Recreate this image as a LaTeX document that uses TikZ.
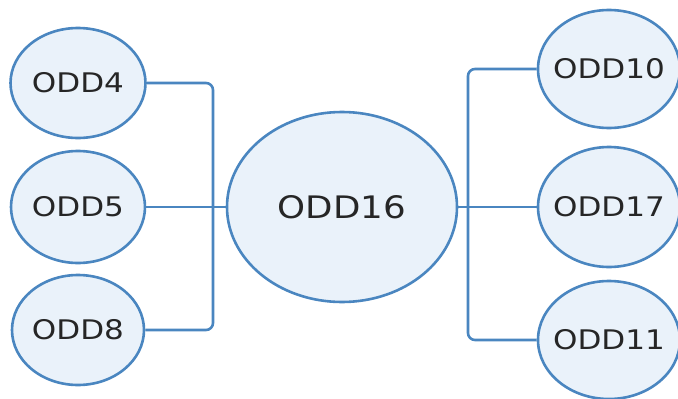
\documentclass[tikz,border=0pt]{standalone}
\usepackage{fontspec}
\usepackage{xcolor}
\usepackage{tikz}
\usetikzlibrary{shapes.geometric}
\newfontfamily\oddfont[FakeStretch=1.15]{DejaVu Sans}
\definecolor{oddline}{HTML}{4A86C0}
\definecolor{oddfill}{HTML}{EAF2FA}
\definecolor{oddtext}{HTML}{262626}

\begin{document}
\begin{tikzpicture}[x=1pt, y=-1pt,
    odd/.style={ellipse, draw=oddline, fill=oddfill, line width=2.6pt, inner sep=0pt,
        label={[oddlbl]center:#1}},
    oddlbl/.style={text=oddtext, inner sep=0pt, font=\oddfont\fontsize{27}{32}\selectfont},
    bigodd/.style={ellipse, draw=oddline, fill=oddfill, line width=2.6pt, inner sep=0pt,
        label={[oddlbl, font=\oddfont\fontsize{31}{36}\selectfont]center:#1}},
    link/.style={draw=oddline, line width=2.6pt, rounded corners=7pt}]
    \useasboundingbox (0, 0) rectangle (678, 399);
    \clip (0, 0) rectangle (678, 399);

    \node[odd=ODD4, minimum width=135, minimum height=110] (odd4) at (78, 83) {};
    \node[odd=ODD5, minimum width=134, minimum height=112] (odd5) at (78, 207) {};
    \node[odd=ODD8, minimum width=132, minimum height=110] (odd8) at (78, 330) {};
    \node[bigodd=ODD16, minimum width=230, minimum height=190] (odd16) at (342, 207) {};
    \node[odd=ODD10, minimum width=142, minimum height=118] (odd10) at (609, 69) {};
    \node[odd=ODD17, minimum width=142, minimum height=120] (odd17) at (609, 207) {};
    \node[odd=ODD11, minimum width=142, minimum height=118] (odd11) at (609, 340) {};

    \coordinate (busl) at (213, 207);
    \coordinate (busr) at (468, 207);

    \draw[link] (odd4.east) -| (busl) |- (odd8.east); % left bus
    \draw[link] (odd5.east) -- (odd16.west); % odd5-odd16
    \draw[link] (odd10.west) -| (busr) |- (odd11.west); % right bus
    \draw[link] (odd16.east) -- (odd17.west); % odd16-odd17
\end{tikzpicture}
\end{document}
